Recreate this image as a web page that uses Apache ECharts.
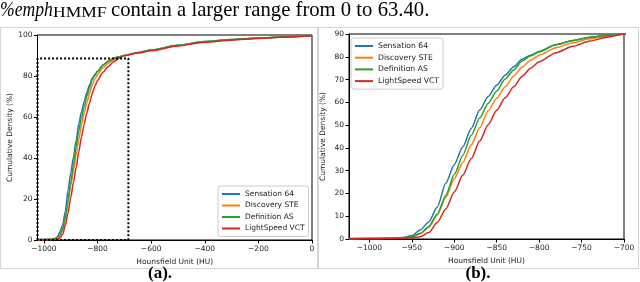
<!DOCTYPE html>
<html><head><meta charset="utf-8">
<script src="https://cdn.jsdelivr.net/npm/echarts@6/dist/echarts.min.js"></script>
<style>html,body{margin:0;padding:0;background:#fff}#c{width:640px;height:282px}</style>
</head><body><div id="c"></div>
<script>
// Hounsfield unit sample points
const hu = [-1024, -1000, -980, -960, -950, -940, -930, -920, -910, -900, -890, -880, -870, -860, -850, -840, -830, -820, -810, -800, -780, -760, -740, -720, -700, -650, -600, -500, -400, -300, -200, -100, 0];
// Cumulative density (%) per scanner
const sensation64   = [0.2, 0.3, 0.4, 0.7, 1.5, 4.0, 7.5, 14.0, 24.5, 32.6, 40.4, 48.5, 56.6, 62.6, 67.5, 71.9, 75.6, 78.9, 80.7, 82.3, 85.4, 87.2, 88.6, 89.4, 90.0, 91.5, 92.7, 95.0, 96.8, 97.8, 98.5, 99.1, 99.6];
const discoverySTE  = [0.1, 0.2, 0.3, 0.5, 1.0, 2.3, 5.2, 10.5, 18.2, 26.5, 33.5, 41.3, 48.8, 56.3, 61.8, 66.8, 71.5, 75.5, 78.5, 80.7, 84.0, 86.2, 87.9, 89.0, 90.0, 91.4, 92.6, 94.9, 96.7, 97.7, 98.5, 99.1, 99.6];
const definitionAS  = [0.1, 0.2, 0.3, 0.5, 1.0, 2.5, 5.5, 11.0, 19.1, 28.3, 36.7, 45.5, 53.1, 59.6, 65.0, 70.2, 74.2, 78.1, 80.4, 82.2, 85.3, 87.2, 88.6, 89.4, 90.0, 91.5, 92.7, 95.0, 96.8, 97.8, 98.5, 99.1, 99.6];
const lightSpeedVCT = [0.05, 0.1, 0.15, 0.3, 0.5, 1.0, 2.8, 7.2, 13.2, 20.6, 28.0, 35.2, 43.0, 50.2, 56.5, 62.0, 66.8, 71.4, 75.0, 77.8, 81.8, 84.6, 86.9, 88.6, 90.0, 91.2, 92.3, 94.6, 96.5, 97.5, 98.3, 99.0, 99.6];
const seriesNames = ['Sensation 64', 'Discovery STE', 'Definition AS', 'LightSpeed VCT'];
// zoom box drawn in panel (a)
const zoomBoxX = [-1024, -1024, -685, -685, -1024];
const zoomBoxY = [0, 88.5, 88.5, 0, 0];
// tick labels
const xTicksA = [-1000, -800, -600, -400, -200, 0];
const yTicksA = [0, 20, 40, 60, 80, 100];
const xTicksB = [-1000, -950, -900, -850, -800, -750, -700];
const yTicksB = [0, 10, 20, 30, 40, 50, 60, 70, 80, 90];

const colors = ['#1f77b4', '#ff7f0e', '#2ca02c', '#d62728'];
const values = [sensation64, discoverySTE, definitionAS, lightSpeedVCT];
const font = 'DejaVu Sans';
const fs = 7.5;
const txt = '#222';
const minus = v => String(v).replace('-', '\u2212');

function xAxis(gi, min, max, ticks) {
  return {
    gridIndex: gi, type: 'value', min: min, max: max,
    name: 'Hounsfield Unit (HU)', nameLocation: 'middle', nameGap: 15,
    nameTextStyle: {fontFamily: font, fontSize: fs, color: txt},
    axisLine: {show: true, onZero: false, lineStyle: {color: '#000', width: 1}},
    axisTick: {show: true, inside: false, length: 3.5, customValues: ticks, lineStyle: {color: '#000'}},
    axisLabel: {customValues: ticks, formatter: minus, fontFamily: font, fontSize: fs, color: txt, margin: 5},
    splitLine: {show: false}
  };
}
function yAxis(gi, max, ticks) {
  return {
    gridIndex: gi, type: 'value', min: 0, max: max,
    name: 'Cumulative Density (%)', nameLocation: 'middle', nameGap: 22, nameRotate: 90,
    nameTextStyle: {fontFamily: font, fontSize: fs, color: txt},
    axisLine: {show: true, onZero: false, lineStyle: {color: '#000', width: 1}},
    axisTick: {show: true, inside: false, length: 3.5, customValues: ticks, lineStyle: {color: '#000'}},
    axisLabel: {customValues: ticks, fontFamily: font, fontSize: fs, color: txt, margin: 5},
    splitLine: {show: false}
  };
}
function legend(left, top, gap, size) {
  return {
    orient: 'vertical', left: left, top: top, itemWidth: 18, itemHeight: 2, itemGap: gap,
    padding: [4, 4, 4, 4], backgroundColor: 'rgba(255,255,255,0.9)', borderColor: '#ccc',
    borderWidth: 1, borderRadius: 3, icon: 'rect', selectedMode: false,
    textStyle: {fontFamily: font, fontSize: size, color: txt, lineHeight: 8},
    data: seriesNames
  };
}

const series = [];
[0, 1].forEach(gi => {
  seriesNames.forEach((n, i) => {
    series.push({
      name: n, type: 'line', xAxisIndex: gi, yAxisIndex: gi,
      data: hu.map((h, k) => [h, values[i][k]]),
      showSymbol: false, smooth: 0.25, smoothMonotone: 'x',
      lineStyle: {color: colors[i], width: 1.5}, itemStyle: {color: colors[i]},
      silent: true, animation: false
    });
  });
});
series.push({
  name: 'zoom', type: 'line', xAxisIndex: 0, yAxisIndex: 0, clip: false,
  data: zoomBoxX.map((x, k) => [x, zoomBoxY[k]]),
  showSymbol: false, lineStyle: {color: '#000', width: 2, type: [2, 2]},
  silent: true, animation: false, z: 3
});

const chart = echarts.init(document.getElementById('c'));
chart.setOption({
  animation: false,
  grid: [
    {left: 37.5, right: 328, top: 35, bottom: 42, show: true, borderColor: '#000', borderWidth: 1, backgroundColor: 'transparent'},
    {left: 349, right: 16, top: 34, bottom: 43, show: true, borderColor: '#000', borderWidth: 1, backgroundColor: 'transparent'}
  ],
  xAxis: [xAxis(0, -1024, 0, xTicksA), xAxis(1, -1024, -700, xTicksB)],
  yAxis: [yAxis(0, 100, yTicksA), yAxis(1, 90, yTicksB)],
  legend: [legend(218, 186, 3.5, 7.5), legend(351, 38, 3.7, 7.7)],
  series: series,
  graphic: [
    {type: 'rect', shape: {x: 0.5, y: 27.5, width: 317, height: 241}, style: {fill: 'none', stroke: '#d4d4d4', lineWidth: 1}, z: -1},
    {type: 'rect', shape: {x: 318.5, y: 27.5, width: 320, height: 241}, style: {fill: 'none', stroke: '#d4d4d4', lineWidth: 1}, z: -1},
    {type: 'text', x: 0, y: 10, scaleX: 0.8, style: {text: '%emph', font: 'italic 22px "Liberation Serif"', fill: '#000', verticalAlign: 'middle'}},
    {type: 'text', x: 53, y: 13, scaleX: 1.25, style: {text: 'HMMF', font: '14px "Liberation Serif"', fill: '#000', verticalAlign: 'middle'}},
    {type: 'text', x: 111, y: 10, scaleX: 0.94, style: {text: 'contain a larger range from 0 to 63.40.', font: '22px "Liberation Serif"', fill: '#000', verticalAlign: 'middle'}},
    {type: 'text', x: 160, y: 273.5, style: {text: '(a).', font: 'bold 17px "Liberation Serif"', fill: '#000', align: 'center', verticalAlign: 'middle'}},
    {type: 'text', x: 478, y: 273.5, style: {text: '(b).', font: 'bold 17px "Liberation Serif"', fill: '#000', align: 'center', verticalAlign: 'middle'}}
  ]
});
</script></body></html>
